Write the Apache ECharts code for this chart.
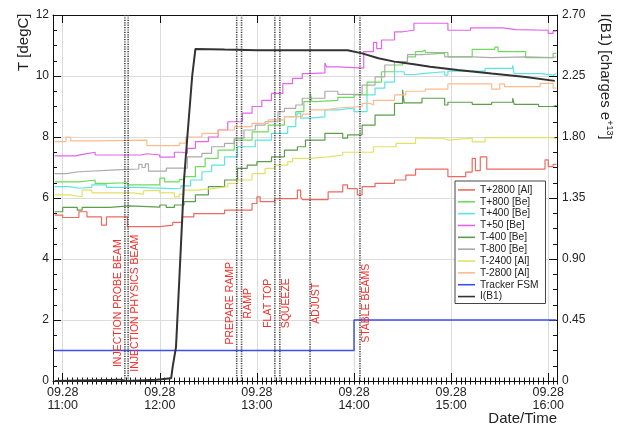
<!DOCTYPE html>
<html>
<head>
<meta charset="utf-8">
<script src="https://cdn.jsdelivr.net/npm/echarts@6/dist/echarts.min.js"></script>
<style>html,body{margin:0;padding:0;background:#fff}#c{width:625px;height:427px}</style>
</head>
<body>
<div id="c"></div>
<script>
// ---------- data (time "HH:MM" on 09.28, temperature in degC) ----------
const dateLabel = "09.28";
const hourTicks = ["11:00","12:00","13:00","14:00","15:00","16:00"];
const seriesNames = ["T+2800 [Al]","T+800 [Be]","T+400 [Be]","T+50 [Be]","T-400 [Be]","T-800 [Be]","T-2400 [Al]","T-2800 [Al]","Tracker FSM","I(B1)"];

const tPlus2800Al = [["10:55",5.44],["11:00",5.36],["11:10",5.55],["11:15",5.38],["11:24",5.11],["11:27",5.38],["11:40",5.06],["12:00",5.11],["12:08",5.2],["12:14",5.38],["12:21",5.49],["12:40",5.6],["12:57",5.82],["13:00",6.04],["13:02",5.88],["13:11",5.98],["13:25",6.26],["13:27",6.04],["13:28",5.95],["13:44",6.2],["13:53",6.43],["13:56",6.31],["14:02",6.1],["14:05",6.37],["14:13",6.48],["14:25",6.59],["14:32",6.75],["14:38",6.95],["14:58",6.7],["15:09",6.85],["15:13",7.3],["15:15",6.9],["15:18",7.35],["15:22",6.95],["15:58",7.25],["16:00",7.03],["16:03",7.1],["16:05",7.1]];
const tPlus800Be = [["10:55",6.53],["11:10",6.59],["11:20",6.48],["11:28",6.5],["11:40",6.43],["12:00",6.65],["12:03",6.53],["12:12",6.6],["12:15",6.7],["12:22",7.03],["12:28",7.3],["12:36",7.57],["12:46",7.9],["12:57",8.17],["13:07",8.39],["13:17",8.67],["13:24",8.83],["13:29",9.16],["13:33",9.44],["13:34",9.16],["13:36",9.2],["13:50",9.3],["14:00",9.38],["14:08",9.8],["14:17",10.14],["14:25",10.36],["14:30",10.47],["14:33",10.63],["14:38",10.8],["14:42",10.85],["14:44",10.77],["14:58",10.63],["15:13",10.87],["15:27",10.95],["15:29",10.8],["15:46",10.6],["16:03",10.74],["16:05",10.74]];
const tPlus400Be = [["10:55",6.37],["11:04",6.32],["11:10",6.35],["11:18",6.43],["11:27",6.35],["11:45",6.31],["12:08",6.32],["12:13",6.4],["12:19",6.59],["12:26",6.86],["12:32",7.08],["12:40",7.35],["12:48",7.68],["12:59",7.9],["13:09",8.12],["13:19",8.34],["13:24",8.56],["13:25",8.78],["13:27",8.62],["13:32",8.66],["13:42",8.89],["13:50",8.95],["14:00",8.83],["14:08",9.38],["14:13",9.6],["14:19",9.8],["14:25",10.14],["14:31",10.05],["14:38",10.08],["14:42",10.14],["14:56",10.03],["14:58",10.16],["15:21",10.25],["15:38",10.35],["15:39",10.08],["15:56",10.03],["16:03",10.08],["16:05",10.08]];
const tPlus50Be = [["10:55",7.38],["11:08",7.44],["11:13",7.5],["11:20",7.41],["11:48",7.45],["11:52",7.41],["12:00",7.34],["12:09",7.5],["12:14",7.46],["12:17",7.63],["12:22",7.85],["12:30",8.0],["12:36",8.23],["12:42",8.5],["12:51",8.78],["12:57",9.0],["13:03",9.2],["13:09",9.43],["13:16",9.75],["13:22",9.92],["13:28",10.08],["13:32",10.1],["13:42",10.43],["13:43",10.3],["13:50",10.26],["14:06",10.8],["14:12",11.1],["14:14",10.9],["14:17",11.18],["14:25",11.45],["14:30",11.5],["14:37",11.73],["14:58",11.5],["15:12",11.58],["15:32",11.52],["15:40",11.5],["16:00",11.4],["16:03",11.47],["16:05",11.47]];
const tMinus400Be = [["10:55",5.55],["11:00",5.69],["11:09",5.6],["11:12",5.69],["11:29",5.74],["11:41",5.7],["12:00",5.77],["12:04",5.69],["12:09",5.77],["12:15",5.88],["12:22",6.1],["12:30",6.37],["12:40",6.59],["12:48",6.97],["12:54",7.08],["13:00",7.19],["13:09",7.35],["13:17",7.57],["13:25",7.68],["13:30",7.9],["13:42",8.12],["13:53",7.96],["13:56",8.07],["14:05",8.39],["14:13",8.72],["14:25",9.1],["14:30",9.55],["14:31",9.12],["14:42",9.27],["14:56",9.05],["14:58",9.14],["15:13",9.07],["15:25",9.14],["15:38",9.27],["15:39",9.07],["15:54",9.0],["16:03",9.04],["16:05",9.04]];
const tMinus800Be = [["10:55",6.8],["11:02",6.86],["11:10",6.92],["11:33",6.95],["11:47",7.1],["11:49",7.0],["11:51",7.12],["11:53",6.88],["12:04",6.98],["12:17",7.35],["12:26",7.46],["12:32",7.68],["12:40",7.79],["12:46",7.96],["12:52",8.23],["12:59",8.39],["13:05",8.5],["13:13",8.83],["13:17",8.94],["13:24",9.05],["13:28",9.27],["13:42",9.5],["13:50",9.4],["14:05",9.7],["14:13",9.97],["14:19",10.36],["14:25",10.47],["14:33",10.7],["14:42",10.75],["14:56",10.63],["15:13",10.6],["15:25",10.63],["15:46",10.6],["16:03",10.63],["16:05",10.63]];
const tMinus2400Al = [["10:55",6.1],["11:04",6.04],["11:12",6.26],["11:18",6.17],["11:43",6.13],["11:50",6.24],["12:00",6.17],["12:09",6.04],["12:12",6.13],["12:15",6.26],["12:23",6.31],["12:32",6.37],["12:42",6.48],["12:48",6.59],["12:57",6.8],["13:05",6.97],["13:11",7.08],["13:19",7.19],["13:22",7.3],["13:33",7.35],["13:44",7.41],["13:53",7.5],["14:12",7.68],["14:26",7.79],["14:38",7.96],["14:55",7.9],["14:58",7.96],["15:13",7.84],["15:21",7.98],["16:03",7.94],["16:05",7.94]];
const tMinus2800Al = [["10:55",7.85],["11:02",8.0],["11:05",7.87],["11:20",7.9],["11:52",7.72],["12:12",7.8],["12:16",8.0],["12:26",8.12],["12:36",8.23],["12:46",8.34],["12:57",8.45],["13:07",8.56],["13:17",8.67],["13:28",8.75],["13:33",8.89],["13:42",8.95],["13:50",9.0],["14:05",9.1],["14:10",9.05],["14:12",9.2],["14:25",9.38],["14:32",9.5],["14:44",9.57],["14:58",9.74],["15:25",9.57],["15:30",9.74],["15:33",9.65],["15:55",9.76],["16:03",9.6],["16:05",9.6]];
const trackerFSM = [["10:55",1],["14:00",2],["16:05",2]];
// beam intensity, charges e+13 (right axis)
const iB1 = [["10:55",0],["11:36",0.01],["11:39",0],["11:58",0.01],["12:07",0.02],["12:08",0.11],["12:10",0.25],["12:12",0.74],["12:15",1.49],["12:17",1.8],["12:20",2.25],["12:22",2.45],["12:40",2.445],["13:00",2.44],["13:56",2.44],["14:05",2.417],["14:15",2.381],["14:25",2.356],["14:37",2.336],["14:47",2.318],["15:04",2.295],["15:25",2.268],["15:46",2.243],["16:04",2.214]];

// machine mode changes
const eventNames = ["INJECTION PROBE BEAM","INJECTION PHYSICS BEAM","PREPARE RAMP","RAMP","FLAT TOP","SQUEEZE","ADJUST","STABLE BEAMS"];
const eventTimes = ["11:38:25","11:40:25","12:47:30","12:50:30","13:11:05","13:14:10","13:32:50","14:03:40"];
const eventLabelSide = [-1,1,-1,1,-1,1,1,1];

// ---------- helpers ----------
function toMin(s){const p=s.split(':').map(Number);return (p[0]-11)*60+p[1]+(p[2]||0)/60;}
function fmtMin(v){const t=Math.round(v)+660;const h=Math.floor(t/60),m=t%60;return (h<10?'0':'')+h+':'+(m<10?'0':'')+m;}
function pts(a){return a.map(d=>[toMin(d[0]),d[1]]);}

const FONT='"Liberation Sans", Arial, Helvetica, sans-serif';
const TXT='#222';
const X_MIN=-6, X_MAX=305.4;
const hourVals = hourTicks.map(toMin);

const colors = ['#ee6a60','#6edc5c','#5fe3e3','#e265ea','#5c9e4c','#ababab','#e2e266','#ffbb8c','#3f4fe6','#333333'];
const tempData = [tPlus2800Al,tPlus800Be,tPlus400Be,tPlus50Be,tMinus400Be,tMinus800Be,tMinus2400Al,tMinus2800Al];

const series = [];
tempData.forEach((d,i)=>{
  series.push({name:seriesNames[i],type:'line',step:'end',symbol:'none',data:pts(d),
    xAxisIndex:0,yAxisIndex:0,lineStyle:{width:1.2,color:colors[i]},itemStyle:{color:colors[i]},z:3});
});
series.push({name:seriesNames[8],type:'line',step:'end',symbol:'none',data:pts(trackerFSM),
  xAxisIndex:0,yAxisIndex:0,lineStyle:{width:1.5,color:colors[8]},itemStyle:{color:colors[8]},z:3});
series.push({name:'events',type:'custom',xAxisIndex:0,yAxisIndex:0,z:4,silent:true,
  data:eventTimes.map((t,i)=>[toMin(t),eventLabelSide[i]]),
  encode:{x:0},
  renderItem:function(params,api){
    const x=api.value(0), side=api.value(1);
    const top=api.coord([x,12]), bot=api.coord([x,0]), mid=api.coord([x,2.55]);
    return {type:'group',children:[
      {type:'line',shape:{x1:top[0],y1:top[1],x2:bot[0],y2:bot[1]},style:{stroke:'#444',lineWidth:1.6,lineDash:[1.2,1.2]}},
      {type:'text',x:mid[0]+side*6.5,y:mid[1],rotation:Math.PI/2,
       style:{text:eventNames[params.dataIndex],fill:'#f2302c',font:'10.5px '+FONT,align:'center',verticalAlign:'middle'}}
    ]};
  }});
series.push({name:seriesNames[9],type:'line',symbol:'none',data:pts(iB1),
  xAxisIndex:0,yAxisIndex:1,lineStyle:{width:2,color:colors[9]},itemStyle:{color:colors[9]},z:5});

const axisLine={show:true,onZero:false,lineStyle:{color:'#111',width:1}};
const option={
  animation:false,
  backgroundColor:'#fff',
  textStyle:{fontFamily:FONT},
  grid:{left:53,right:68,top:15,bottom:46,containLabel:false,outerBoundsMode:'none'},
  xAxis:[
    {type:'value',position:'bottom',min:X_MIN,max:X_MAX,axisLine:axisLine,
     axisTick:{show:true,inside:true,length:8,customValues:hourVals,lineStyle:{color:'#111'}},
     axisLabel:{show:true,customValues:hourVals,color:TXT,fontSize:12.5,lineHeight:13,margin:5,fontFamily:FONT,
       formatter:v=>dateLabel+'\n'+fmtMin(v)},
     splitLine:{show:true,lineStyle:{color:'#dcdcdc',width:1}}},
    {type:'value',position:'bottom',min:X_MIN,max:X_MAX,interval:3,axisLine:{show:false},
     axisTick:{show:true,inside:true,length:3.5,lineStyle:{color:'#111'}},axisLabel:{show:false},splitLine:{show:false}},
    {type:'value',position:'top',min:X_MIN,max:X_MAX,axisLine:axisLine,
     axisTick:{show:true,inside:true,length:8,customValues:hourVals,lineStyle:{color:'#111'}},
     axisLabel:{show:false,customValues:hourVals},splitLine:{show:false}},
    {type:'value',position:'top',min:X_MIN,max:X_MAX,interval:3,axisLine:{show:false},
     axisTick:{show:true,inside:true,length:3.5,lineStyle:{color:'#111'}},axisLabel:{show:false},splitLine:{show:false}}
  ],
  yAxis:[
    {type:'value',position:'left',min:0,max:12,interval:2,axisLine:axisLine,
     axisTick:{show:true,inside:true,length:8,lineStyle:{color:'#111'}},
     minorTick:{show:true,splitNumber:4,length:4,lineStyle:{color:'#111'}},
     axisLabel:{color:TXT,fontSize:12,margin:4,fontFamily:FONT},
     splitLine:{show:true,lineStyle:{color:'#dcdcdc',width:1}}},
    {type:'value',position:'right',min:0,max:2.7,interval:0.45,axisLine:axisLine,
     axisTick:{show:true,inside:true,length:8,lineStyle:{color:'#111'}},
     minorTick:{show:true,splitNumber:4,length:4,lineStyle:{color:'#111'}},
     axisLabel:{color:TXT,fontSize:12,margin:5,fontFamily:FONT,formatter:v=>v===0?'0':v.toFixed(2)},
     splitLine:{show:false}}
  ],
  legend:{orient:'vertical',left:455,top:181,data:seriesNames,icon:'rect',itemWidth:17,itemHeight:1.6,itemGap:0,
    padding:[3,7,1,3],borderColor:'#444',borderWidth:1,backgroundColor:'#fff',
    textStyle:{fontSize:10.2,lineHeight:11.85,color:TXT,fontFamily:FONT},selectedMode:false},
  graphic:[
    {type:'text',x:23.5,y:13.5,rotation:Math.PI/2,style:{text:'T [degC]',fill:TXT,font:'15px '+FONT,align:'right',verticalAlign:'middle'}},
    {type:'text',x:605,y:13.5,rotation:-Math.PI/2,style:{text:'{a|I(B1) [charges e}{s|+13}{a|]}',align:'left',verticalAlign:'middle',
      rich:{a:{fontSize:15,fontFamily:FONT,fill:TXT,color:TXT,lineHeight:18},s:{fontSize:9,fontFamily:FONT,color:TXT,fill:TXT,verticalAlign:'top',lineHeight:18}}}},
    {type:'text',x:557,y:419,style:{text:'Date/Time',fill:TXT,font:'15px '+FONT,align:'right',verticalAlign:'middle'}}
  ],
  series:series
};
const chart=echarts.init(document.getElementById('c'),null,{renderer:'canvas'});
chart.setOption(option);
</script>
</body>
</html>
